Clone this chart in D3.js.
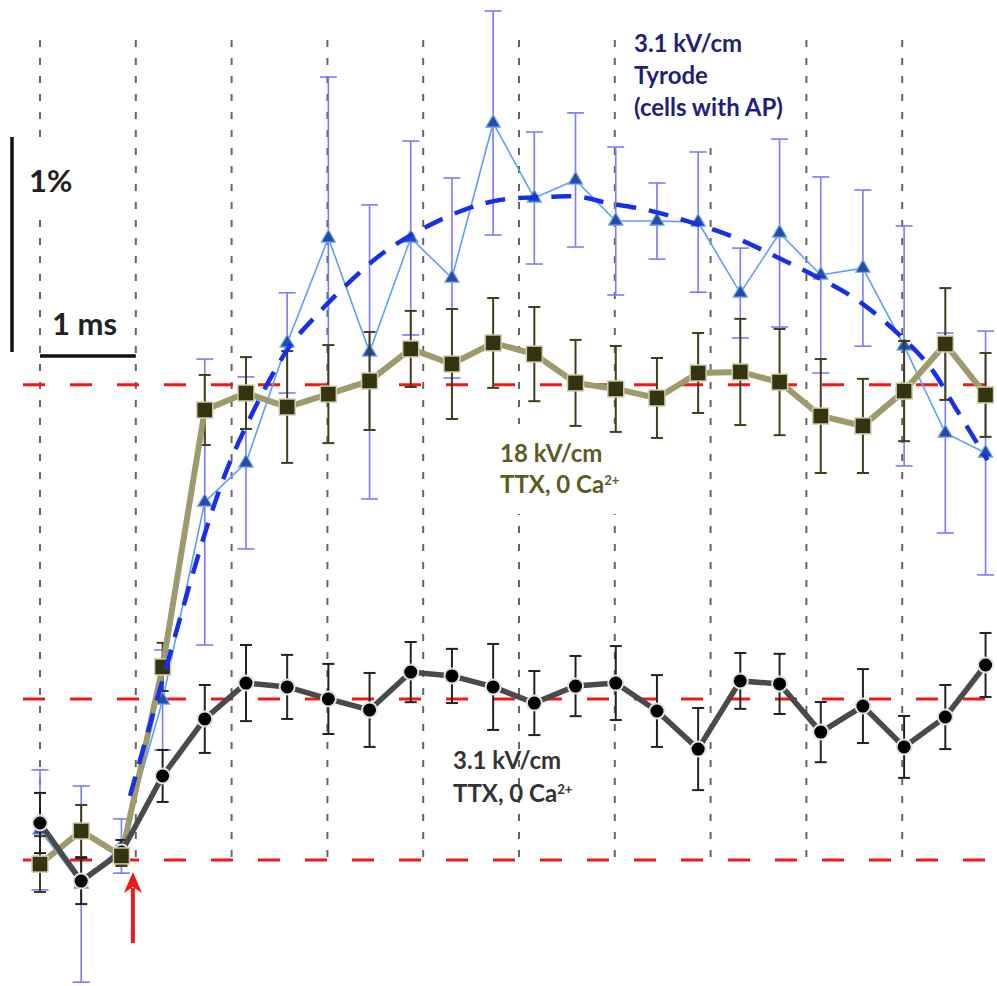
<!DOCTYPE html>
<html>
<head>
<meta charset="utf-8">
<script src="https://cdn.jsdelivr.net/npm/d3@7"></script>
<style>
  body { margin: 0; background: #fff; }
  svg { display: block; }
  text { font-family: Lato, "Open Sans", sans-serif; font-weight: 700; }
</style>
</head>
<body>
<script>
// sample times (ms) and the three averaged traces (% change), with error bars
var timeMs = [0, 0.43, 0.85, 1.28, 1.72, 2.15, 2.58, 3.01, 3.44, 3.87, 4.30, 4.73,
              5.16, 5.59, 6.01, 6.44, 6.87, 7.31, 7.72, 8.15, 8.59, 9.02, 9.45, 9.87];

var ttx31Mean = [0.172, -0.098, 0.037, 0.391, 0.656, 0.823, 0.805, 0.749, 0.698, 0.874, 0.856, 0.805,
                 0.730, 0.809, 0.823, 0.693, 0.516, 0.833, 0.819, 0.595, 0.716, 0.526, 0.665, 0.907];
var ttx31Err = [0.14, 0.107, 0.056, 0.121, 0.158, 0.177, 0.149, 0.163, 0.172, 0.14, 0.126, 0.2,
                0.149, 0.14, 0.172, 0.167, 0.191, 0.13, 0.14, 0.14, 0.172, 0.144, 0.149, 0.149];

var ttx18Mean = [-0.019, 0.135, 0.019, 0.898, 2.093, 2.172, 2.107, 2.167, 2.228, 2.377, 2.307, 2.405,
                 2.353, 2.219, 2.191, 2.149, 2.265, 2.270, 2.223, 2.065, 2.019, 2.181, 2.4, 2.163];
var ttx18Err = [0.13, 0.121, 0.047, 0.112, 0.163, 0.167, 0.26, 0.228, 0.228, 0.177, 0.256, 0.209,
                0.219, 0.2, 0.2, 0.186, 0.186, 0.247, 0.247, 0.265, 0.219, 0.233, 0.26, 0.195];

var tyrodeMean = [0.14, -0.112, 0.065, 0.744, 1.665, 1.847, 2.405, 2.893, 2.363, 2.893, 2.707, 3.428,
                  3.079, 3.163, 2.972, 2.972, 2.967, 2.637, 2.916, 2.721, 2.753, 2.391, 1.986, 1.893];
var tyrodeErr = [0.279, 0.456, 0.126, 0.233, 0.665, 0.4, 0.233, 0.749, 0.684, 0.451, 0.465, 0.521,
                 0.307, 0.312, 0.344, 0.177, 0.326, 0.209, 0.437, 0.456, 0.363, 0.558, 0.465, 0.567];

// dashed smooth fit through the Tyrode trace
var fitTime = [0.94, 1.01, 1.28, 1.80, 2.07, 2.58, 2.87, 3.22, 3.58, 3.97, 4.42, 4.80,
               5.29, 5.64, 5.92, 6.34, 6.79, 7.24, 7.69, 8.11, 8.53, 8.95, 9.29, 9.57, 9.89];
var fitValue = [0.298, 0.409, 0.837, 1.628, 1.940, 2.372, 2.526, 2.684, 2.823, 2.930, 3.023, 3.070,
                3.084, 3.084, 3.056, 3.023, 2.967, 2.898, 2.805, 2.712, 2.605, 2.451, 2.293, 2.093, 1.860];

var refLevels = [0, 0.749, 2.21];          // red dashed reference lines
var gridTimes = [0, 1, 2, 3, 4, 5, 6, 7, 8, 9];
var stimulusTime = 0.97;

var tyrodeLabel = ['3.1 kV/cm', 'Tyrode', '(cells with AP)'];
var ttx18Label = ['18 kV/cm', 'TTX, 0 Ca'];
var ttx31Label = ['3.1 kV/cm', 'TTX, 0 Ca'];

var width = 997,
    height = 986;

var x = d3.scaleLinear().domain([0, 10]).range([40, 998]);
var y = d3.scaleLinear().domain([0, 1]).range([860, 645]);

var svg = d3.select('body').append('svg')
    .attr('width', width)
    .attr('height', height);

// vertical dotted grid
svg.selectAll('line.grid')
    .data(gridTimes)
    .enter().append('line')
    .attr('class', 'grid')
    .attr('x1', function (d) { return x(d); })
    .attr('x2', function (d) { return x(d); })
    .attr('y1', 40)
    .attr('y2', y(0))
    .style('stroke', '#666')
    .style('stroke-width', 2)
    .style('stroke-dasharray', '7,11');

// white boxes behind some labels (they hide the grid)
svg.append('rect').attr('x', 624).attr('y', 0).attr('width', 176).attr('height', 147).style('fill', '#fff');
svg.append('rect').attr('x', 496).attr('y', 424).attr('width', 124).attr('height', 90).style('fill', '#fff');
svg.append('rect').attr('x', 25).attr('y', 140).attr('width', 52).attr('height', 73).style('fill', '#fff');

// red reference lines
svg.selectAll('line.ref')
    .data(refLevels)
    .enter().append('line')
    .attr('class', 'ref')
    .attr('x1', 23)
    .attr('x2', width)
    .attr('y1', function (d) { return y(d); })
    .attr('y2', function (d) { return y(d); })
    .style('stroke', '#f01818')
    .style('stroke-width', 3)
    .style('stroke-dasharray', '22,25');

// scale bars
svg.append('line')
    .attr('x1', 12).attr('x2', 12)
    .attr('y1', y(2.363)).attr('y2', y(3.363))
    .style('stroke', '#111').style('stroke-width', 3.5);
svg.append('line')
    .attr('x1', x(0)).attr('x2', x(1))
    .attr('y1', 356).attr('y2', 356)
    .style('stroke', '#111').style('stroke-width', 3.5);
svg.append('text').attr('x', 29).attr('y', 192).style('font-size', '31px').style('fill', '#222').text('1%');
svg.append('text').attr('x', 52).attr('y', 335).style('font-size', '31px').style('fill', '#222').text('1 ms');

function series(mean, err) {
    return timeMs.map(function (t, i) {
        return { t: t, v: mean[i], e: err[i] };
    });
}

function drawErrors(data, color, w, cap) {
    var g = svg.append('g');
    g.selectAll('line.stem').data(data).enter().append('line')
        .attr('x1', function (d) { return x(d.t); })
        .attr('x2', function (d) { return x(d.t); })
        .attr('y1', function (d) { return y(d.v - d.e); })
        .attr('y2', function (d) { return y(d.v + d.e); })
        .style('stroke', color).style('stroke-width', w);
    [-1, 1].forEach(function (s) {
        g.selectAll('line.cap' + s).data(data).enter().append('line')
            .attr('x1', function (d) { return x(d.t) - cap / 2; })
            .attr('x2', function (d) { return x(d.t) + cap / 2; })
            .attr('y1', function (d) { return y(d.v + s * d.e); })
            .attr('y2', function (d) { return y(d.v + s * d.e); })
            .style('stroke', color).style('stroke-width', w);
    });
}

var line = d3.line()
    .x(function (d) { return x(d.t); })
    .y(function (d) { return y(d.v); });

var tyrode = series(tyrodeMean, tyrodeErr),
    ttx18 = series(ttx18Mean, ttx18Err),
    ttx31 = series(ttx31Mean, ttx31Err);

// Tyrode (blue triangles)
drawErrors(tyrode, '#7a7aff', 1.6, 17);
svg.append('path').datum(tyrode)
    .attr('d', line)
    .style('fill', 'none').style('stroke', '#5e9cff').style('stroke-width', 1.6);
svg.selectAll('path.tri').data(tyrode).enter().append('path')
    .attr('class', 'tri')
    .attr('d', d3.symbol().type(d3.symbolTriangle).size(90))
    .attr('transform', function (d) { return 'translate(' + x(d.t) + ',' + y(d.v) + ')'; })
    .style('fill', '#1f4fa8').style('stroke', '#7fa6e8').style('stroke-width', 1.2);

// 18 kV/cm (olive squares) - errors and line; markers drawn later
drawErrors(ttx18, '#3f3f1c', 2, 12);
svg.append('path').datum(ttx18)
    .attr('d', line)
    .style('fill', 'none').style('stroke', '#9d9b6c').style('stroke-width', 6);

// 3.1 kV/cm TTX (black circles)
drawErrors(ttx31, '#222', 2, 12);
svg.append('path').datum(ttx31)
    .attr('d', line)
    .style('fill', 'none').style('stroke', '#4a4a4a').style('stroke-width', 5.5);
svg.selectAll('circle.dot').data(ttx31).enter().append('circle')
    .attr('class', 'dot')
    .attr('cx', function (d) { return x(d.t); })
    .attr('cy', function (d) { return y(d.v); })
    .attr('r', 7.5)
    .style('fill', '#000').style('stroke', '#e2e2e2').style('stroke-width', 2);

svg.selectAll('rect.sq').data(ttx18).enter().append('rect')
    .attr('class', 'sq')
    .attr('x', function (d) { return x(d.t) - 8; })
    .attr('y', function (d) { return y(d.v) - 8; })
    .attr('width', 16).attr('height', 16)
    .style('fill', '#35340f').style('stroke', '#cfceb0').style('stroke-width', 1.5);

// fitted dashed curve
var fit = fitTime.map(function (t, i) { return { t: t, v: fitValue[i] }; });
svg.append('path').datum(fit)
    .attr('d', line.curve(d3.curveCatmullRom))
    .style('fill', 'none').style('stroke', '#1630e8').style('stroke-width', 4.5)
    .style('stroke-dasharray', '20,13');

// stimulus arrow
var ax = x(stimulusTime);
svg.append('line')
    .attr('x1', ax).attr('x2', ax).attr('y1', 943).attr('y2', 888)
    .style('stroke', '#f01818').style('stroke-width', 4);
svg.append('path')
    .attr('d', 'M' + (ax - 9) + ',893 L' + ax + ',872 L' + (ax + 9) + ',893 L' + ax + ',887 Z')
    .style('fill', '#f01818');

// labels
function label(lines, x0, y0, dy, color, size) {
    var t = svg.append('g');
    lines.forEach(function (s, i) {
        var el = t.append('text')
            .attr('x', x0).attr('y', y0 + i * dy)
            .style('font-size', size + 'px').style('fill', color)
            .text(s);
        if (s.indexOf('Ca') === s.length - 2) {
            el.append('tspan')
                .attr('dy', -8)
                .style('font-size', (size * 0.55) + 'px')
                .text('2+');
        }
    });
}

label(tyrodeLabel, 634, 52, 32, '#1f1f7c', 24);
label(ttx18Label, 500, 462, 31, '#5b5b24', 24);
label(ttx31Label, 453, 769, 33, '#333', 24);
</script>
</body>
</html>
